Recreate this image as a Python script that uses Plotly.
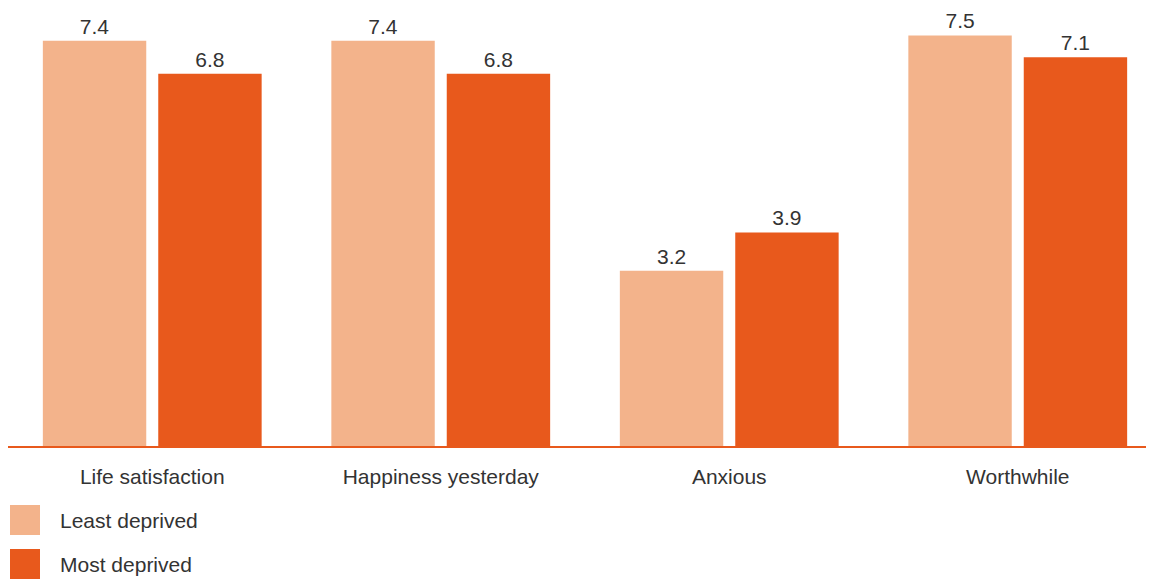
import plotly.graph_objects as go

categories = ["Life satisfaction", "Happiness yesterday", "Anxious", "Worthwhile"]
least_deprived = [7.4, 7.4, 3.2, 7.5]
most_deprived = [6.8, 6.8, 3.9, 7.1]
series_names = ["Least deprived", "Most deprived"]

LIGHT = "#f3b38b"
DARK = "#e8591c"
TEXT = "#333333"
FONT = "Liberation Sans, Arial, sans-serif"

W, H = 1154, 579
ML, MR, MT, MB = 0, 0, 0, 141
PH = H - MT - MB
PW = W - ML - MR

fig = go.Figure()
for name, vals, col in [(series_names[0], least_deprived, LIGHT), (series_names[1], most_deprived, DARK)]:
    fig.add_trace(go.Bar(
        x=categories, y=vals, name=name, marker=dict(color=col, line=dict(width=0)),
        text=[f"{v:.1f}" for v in vals], textposition="outside", cliponaxis=False,
        textfont=dict(size=21, color=TEXT, family=FONT), showlegend=False,
    ))

# custom legend (large squares); pixel positions within the figure
legend_rows = [(series_names[0], LIGHT, 497, 527), (series_names[1], DARK, 541, 571)]
for name, col, y0, y1 in legend_rows:
    fig.add_shape(type="rect", xref="paper", yref="paper",
                  x0=(2 - ML) / PW, x1=(32 - ML) / PW,
                  y0=(PH - y1) / PH, y1=(PH - y0) / PH,
                  fillcolor=col, line=dict(width=0))
    fig.add_annotation(xref="paper", yref="paper", x=(50 - ML) / PW, y=(PH - (y0 + y1) / 2) / PH,
                       text=name, showarrow=False, xanchor="left", yanchor="middle",
                       font=dict(size=21, color=TEXT, family=FONT))

fig.update_layout(
    width=W, height=H, margin=dict(l=ML, r=MR, t=MT, b=MB, pad=0),
    paper_bgcolor="white", plot_bgcolor="white",
    barmode="group", bargap=0.2, bargroupgap=0.104,
    font=dict(family=FONT, color=TEXT),
    xaxis=dict(range=[-0.5, 3.5], showgrid=False, zeroline=False,
               showline=True, linecolor=DARK, linewidth=2, ticks="",
               ticklabelstandoff=11,
               tickfont=dict(size=21, color=TEXT, family=FONT)),
    yaxis=dict(range=[0, 8], visible=False, showgrid=False, zeroline=False),
)

fig.write_html("out.html")
